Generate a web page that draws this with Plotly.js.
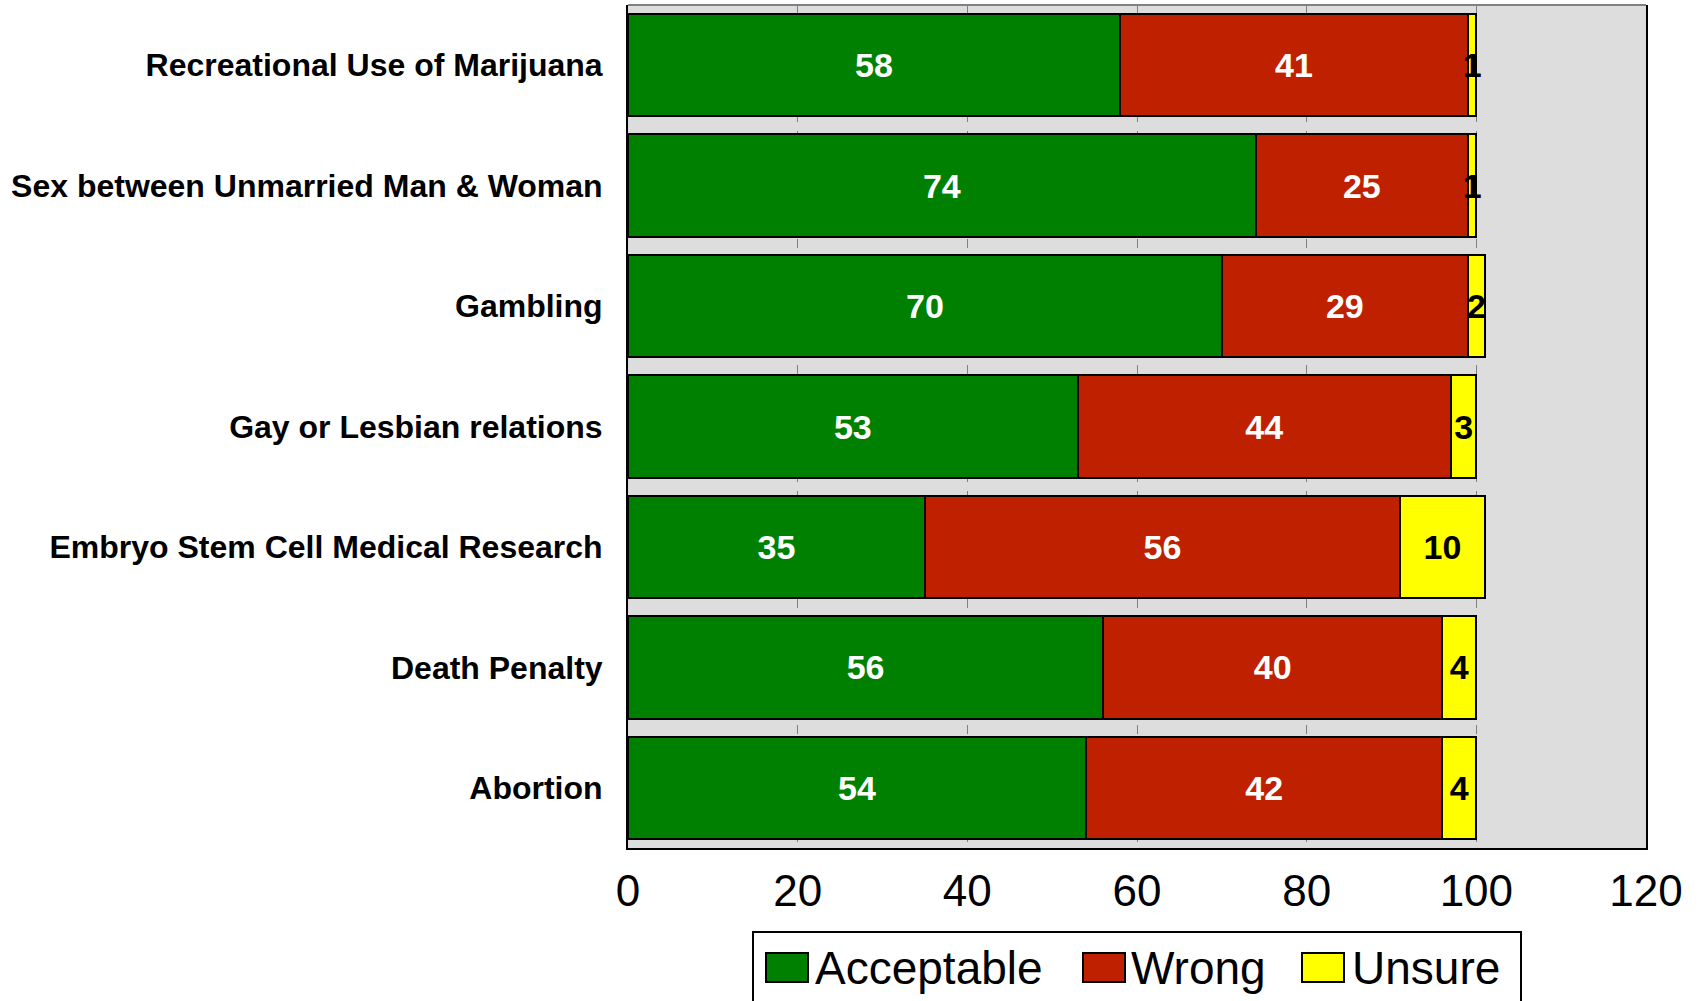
<!DOCTYPE html>
<html>
<head>
<meta charset="utf-8">
<script src="https://cdn.plot.ly/plotly-3.0.1.min.js"></script>
<style>
html,body{margin:0;padding:0;background:#fff;}
#chart{width:1704px;height:1001px;}
</style>
</head>
<body>
<div id="chart"></div>
<script>
const categories = [
  "Recreational Use of Marijuana",
  "Sex between Unmarried Man & Woman",
  "Gambling",
  "Gay or Lesbian relations",
  "Embryo Stem Cell Medical Research",
  "Death Penalty",
  "Abortion"
];
const seriesNames = ["Acceptable", "Wrong", "Unsure"];
const acceptable = [58, 74, 70, 53, 35, 56, 54];
const wrong      = [41, 25, 29, 44, 56, 40, 42];
const unsure     = [1, 1, 2, 3, 10, 4, 4];
const xTicks = [0, 20, 40, 60, 80, 100, 120];

const FONT = "Liberation Sans, Arial, Helvetica, sans-serif";
const colors = ["#008000", "#bf2000", "#ffff00"];
const textColors = ["#ffffff", "#ffffff", "#000000"];
const values = [acceptable, wrong, unsure];

const data = seriesNames.map((name, i) => ({
  type: "bar",
  orientation: "h",
  name: name,
  y: categories,
  x: values[i],
  marker: {color: colors[i], line: {color: "#000000", width: 2}},
  texttemplate: "<b>%{x}</b>",
  textposition: "inside",
  insidetextanchor: "middle",
  textangle: 0,
  constraintext: "none",
  cliponaxis: false,
  textfont: {family: FONT, size: 34, color: textColors[i]},
  hoverinfo: "none",
  showlegend: false
}));

// Plot area in pixels (for placing the custom legend box)
const W = 1704, H = 1001;
const M = {l: 628, r: 58, t: 5, b: 153};
const PW = W - M.l - M.r, PH = H - M.t - M.b;
const px = v => (v - M.l) / PW;
const py = v => (H - M.b - v) / PH;

// custom legend (large swatches like the reference)
const legBox = {x0: 753, x1: 1521, y0: 932, y1: 1012};
const swX = [766, 1083, 1302], swW = 42, swY0 = 953, swY1 = 982;
const txX = [813, 1129, 1350], txY = 968;

const shapes = [
  {type: "line", xref: "paper", yref: "paper", x0: 0, x1: 1, y0: 1, y1: 1,
   line: {color: "#808080", width: 2}},
  {type: "rect", xref: "paper", yref: "paper",
   x0: px(legBox.x0), x1: px(legBox.x1), y0: py(legBox.y0), y1: py(legBox.y1),
   fillcolor: "#ffffff", line: {color: "#000000", width: 2}, layer: "above"}
];
const annotations = [];
seriesNames.forEach((name, i) => {
  shapes.push({type: "rect", xref: "paper", yref: "paper",
    x0: px(swX[i]), x1: px(swX[i] + swW), y0: py(swY0), y1: py(swY1),
    fillcolor: colors[i], line: {color: "#000000", width: 2}, layer: "above"});
  annotations.push({xref: "paper", yref: "paper", x: px(txX[i]), y: py(txY),
    xanchor: "left", yanchor: "middle", showarrow: false, text: name,
    font: {family: FONT, size: 46, color: "#000000"}});
});

const layout = {
  width: W,
  height: H,
  margin: {l: M.l, r: M.r, t: M.t, b: M.b, pad: 0},
  paper_bgcolor: "#ffffff",
  plot_bgcolor: "#dddddd",
  barmode: "stack",
  bargap: 0.15,
  showlegend: false,
  font: {family: FONT, color: "#000000"},
  xaxis: {
    range: [0, 120],
    tickvals: xTicks,
    ticktext: xTicks.map(String),
    showgrid: true,
    gridcolor: "#808080",
    griddash: "dash",
    gridwidth: 1,
    zeroline: false,
    showline: true,
    linecolor: "#000000",
    linewidth: 2,
    ticks: "",
    ticklabelstandoff: 3,
    tickfont: {family: FONT, size: 44, color: "#000000"},
    fixedrange: true
  },
  yaxis: {
    type: "category",
    autorange: "reversed",
    showgrid: false,
    zeroline: false,
    showline: true,
    mirror: true,
    linecolor: "#000000",
    linewidth: 2,
    ticks: "",
    ticklabelstandoff: 17,
    tickfont: {family: FONT, size: 32, color: "#000000", weight: "bold"},
    fixedrange: true
  },
  shapes: shapes,
  annotations: annotations
};

Plotly.newPlot("chart", data, layout, {staticPlot: true, displayModeBar: false});
</script>
</body>
</html>
